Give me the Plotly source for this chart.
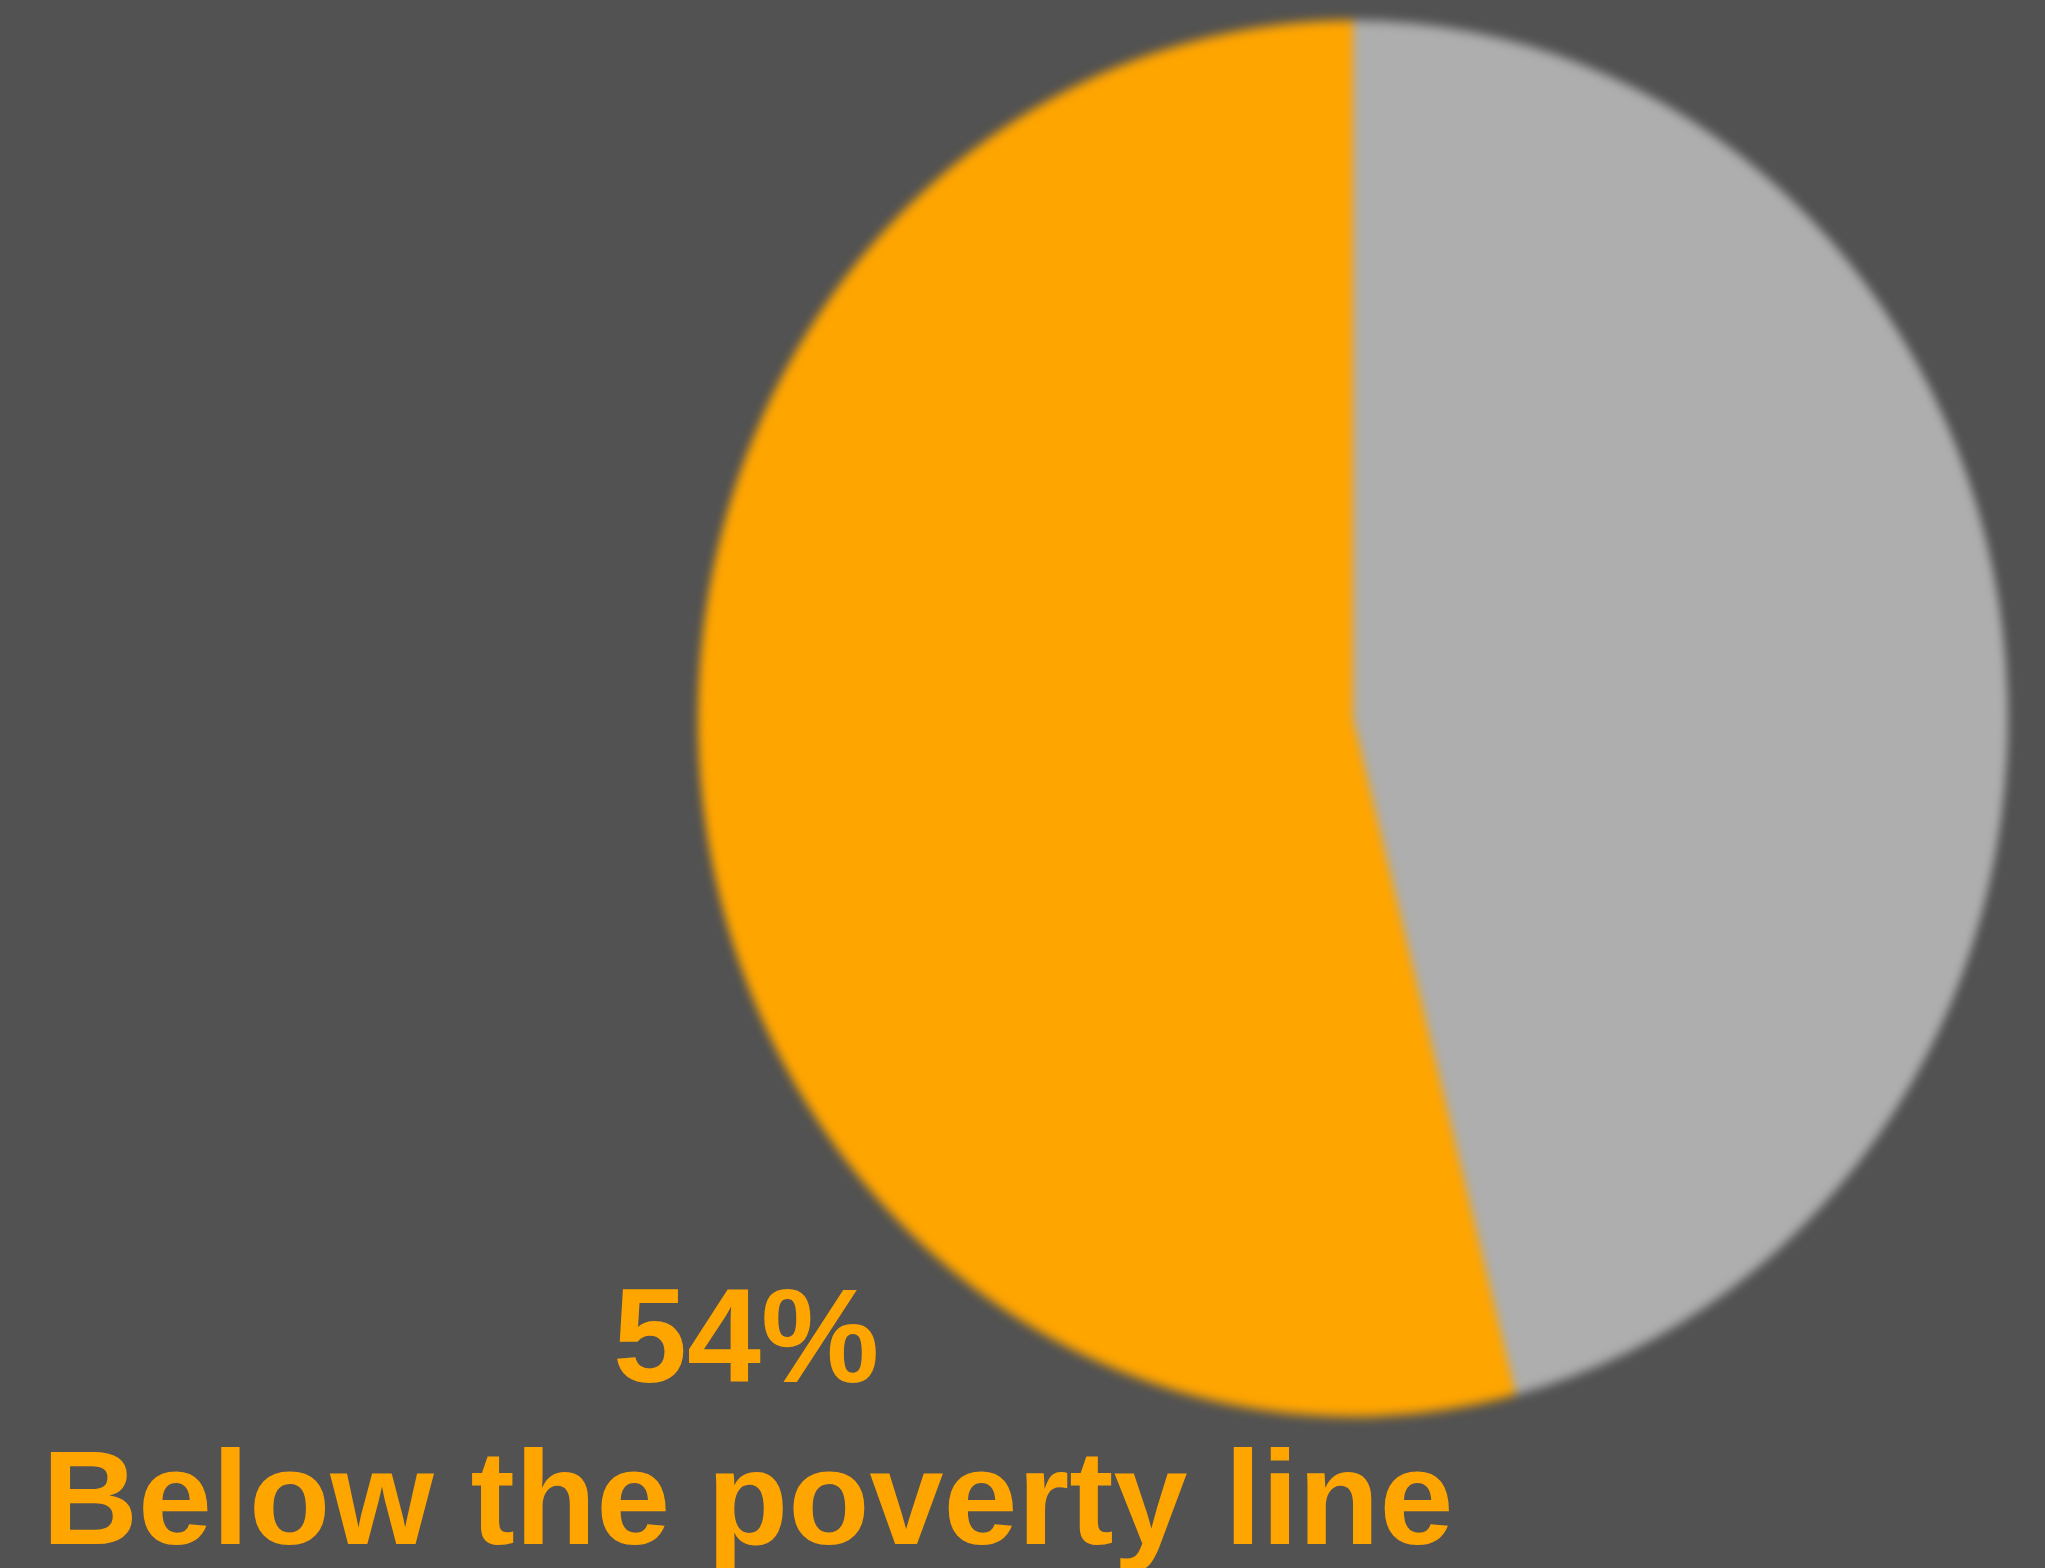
import plotly.graph_objects as go

labels = ["Above the poverty line", "Below the poverty line"]
values = [46, 54]
colors = ["#AEAEAE", "#FFA500"]
headline = "54%"
caption = "Below the poverty line"

W, H = 2045, 1568
bg = "#525252"

fig = go.Figure()

fig.add_trace(
    go.Pie(
        labels=labels,
        values=values,
        marker=dict(colors=colors, line=dict(width=0)),
        sort=False,
        direction="clockwise",
        rotation=0,
        textinfo="none",
        hoverinfo="none",
        showlegend=False,
        # centre ~ (1353, 718) px, radius ~655 px
        domain=dict(x=[0.3413, 0.9819], y=[0.1241, 0.9595]),
    )
)

font = dict(family="Liberation Sans, Arial, sans-serif", size=133, color="#FFA500")

fig.add_annotation(
    text="<b>" + headline + "</b>",
    x=746 / W, y=1 - 1336 / H, xref="paper", yref="paper",
    xanchor="center", yanchor="middle", showarrow=False, font=font,
)
fig.add_annotation(
    text="<b>" + caption + "</b>",
    x=748 / W, y=1 - 1498 / H, xref="paper", yref="paper",
    xanchor="center", yanchor="middle", showarrow=False, font=font,
)

fig.update_layout(
    width=W,
    height=H,
    margin=dict(l=0, r=0, t=0, b=0),
    paper_bgcolor=bg,
    plot_bgcolor=bg,
)

# no page margin; the pie in the original is a little taller than wide and has a soft edge
fig.write_html(
    "out.html",
    config={"displayModeBar": False},
    post_script=(
        "document.body.style.margin='0';"
        "document.body.style.background='#525252';"
        "var p=document.querySelector('.pielayer');"
        "if(p){p.style.transformOrigin='1353px 718px';"
        "p.style.transform='scaleY(1.066)';"
        "p.style.filter='blur(5px)';}"
    ),
)
